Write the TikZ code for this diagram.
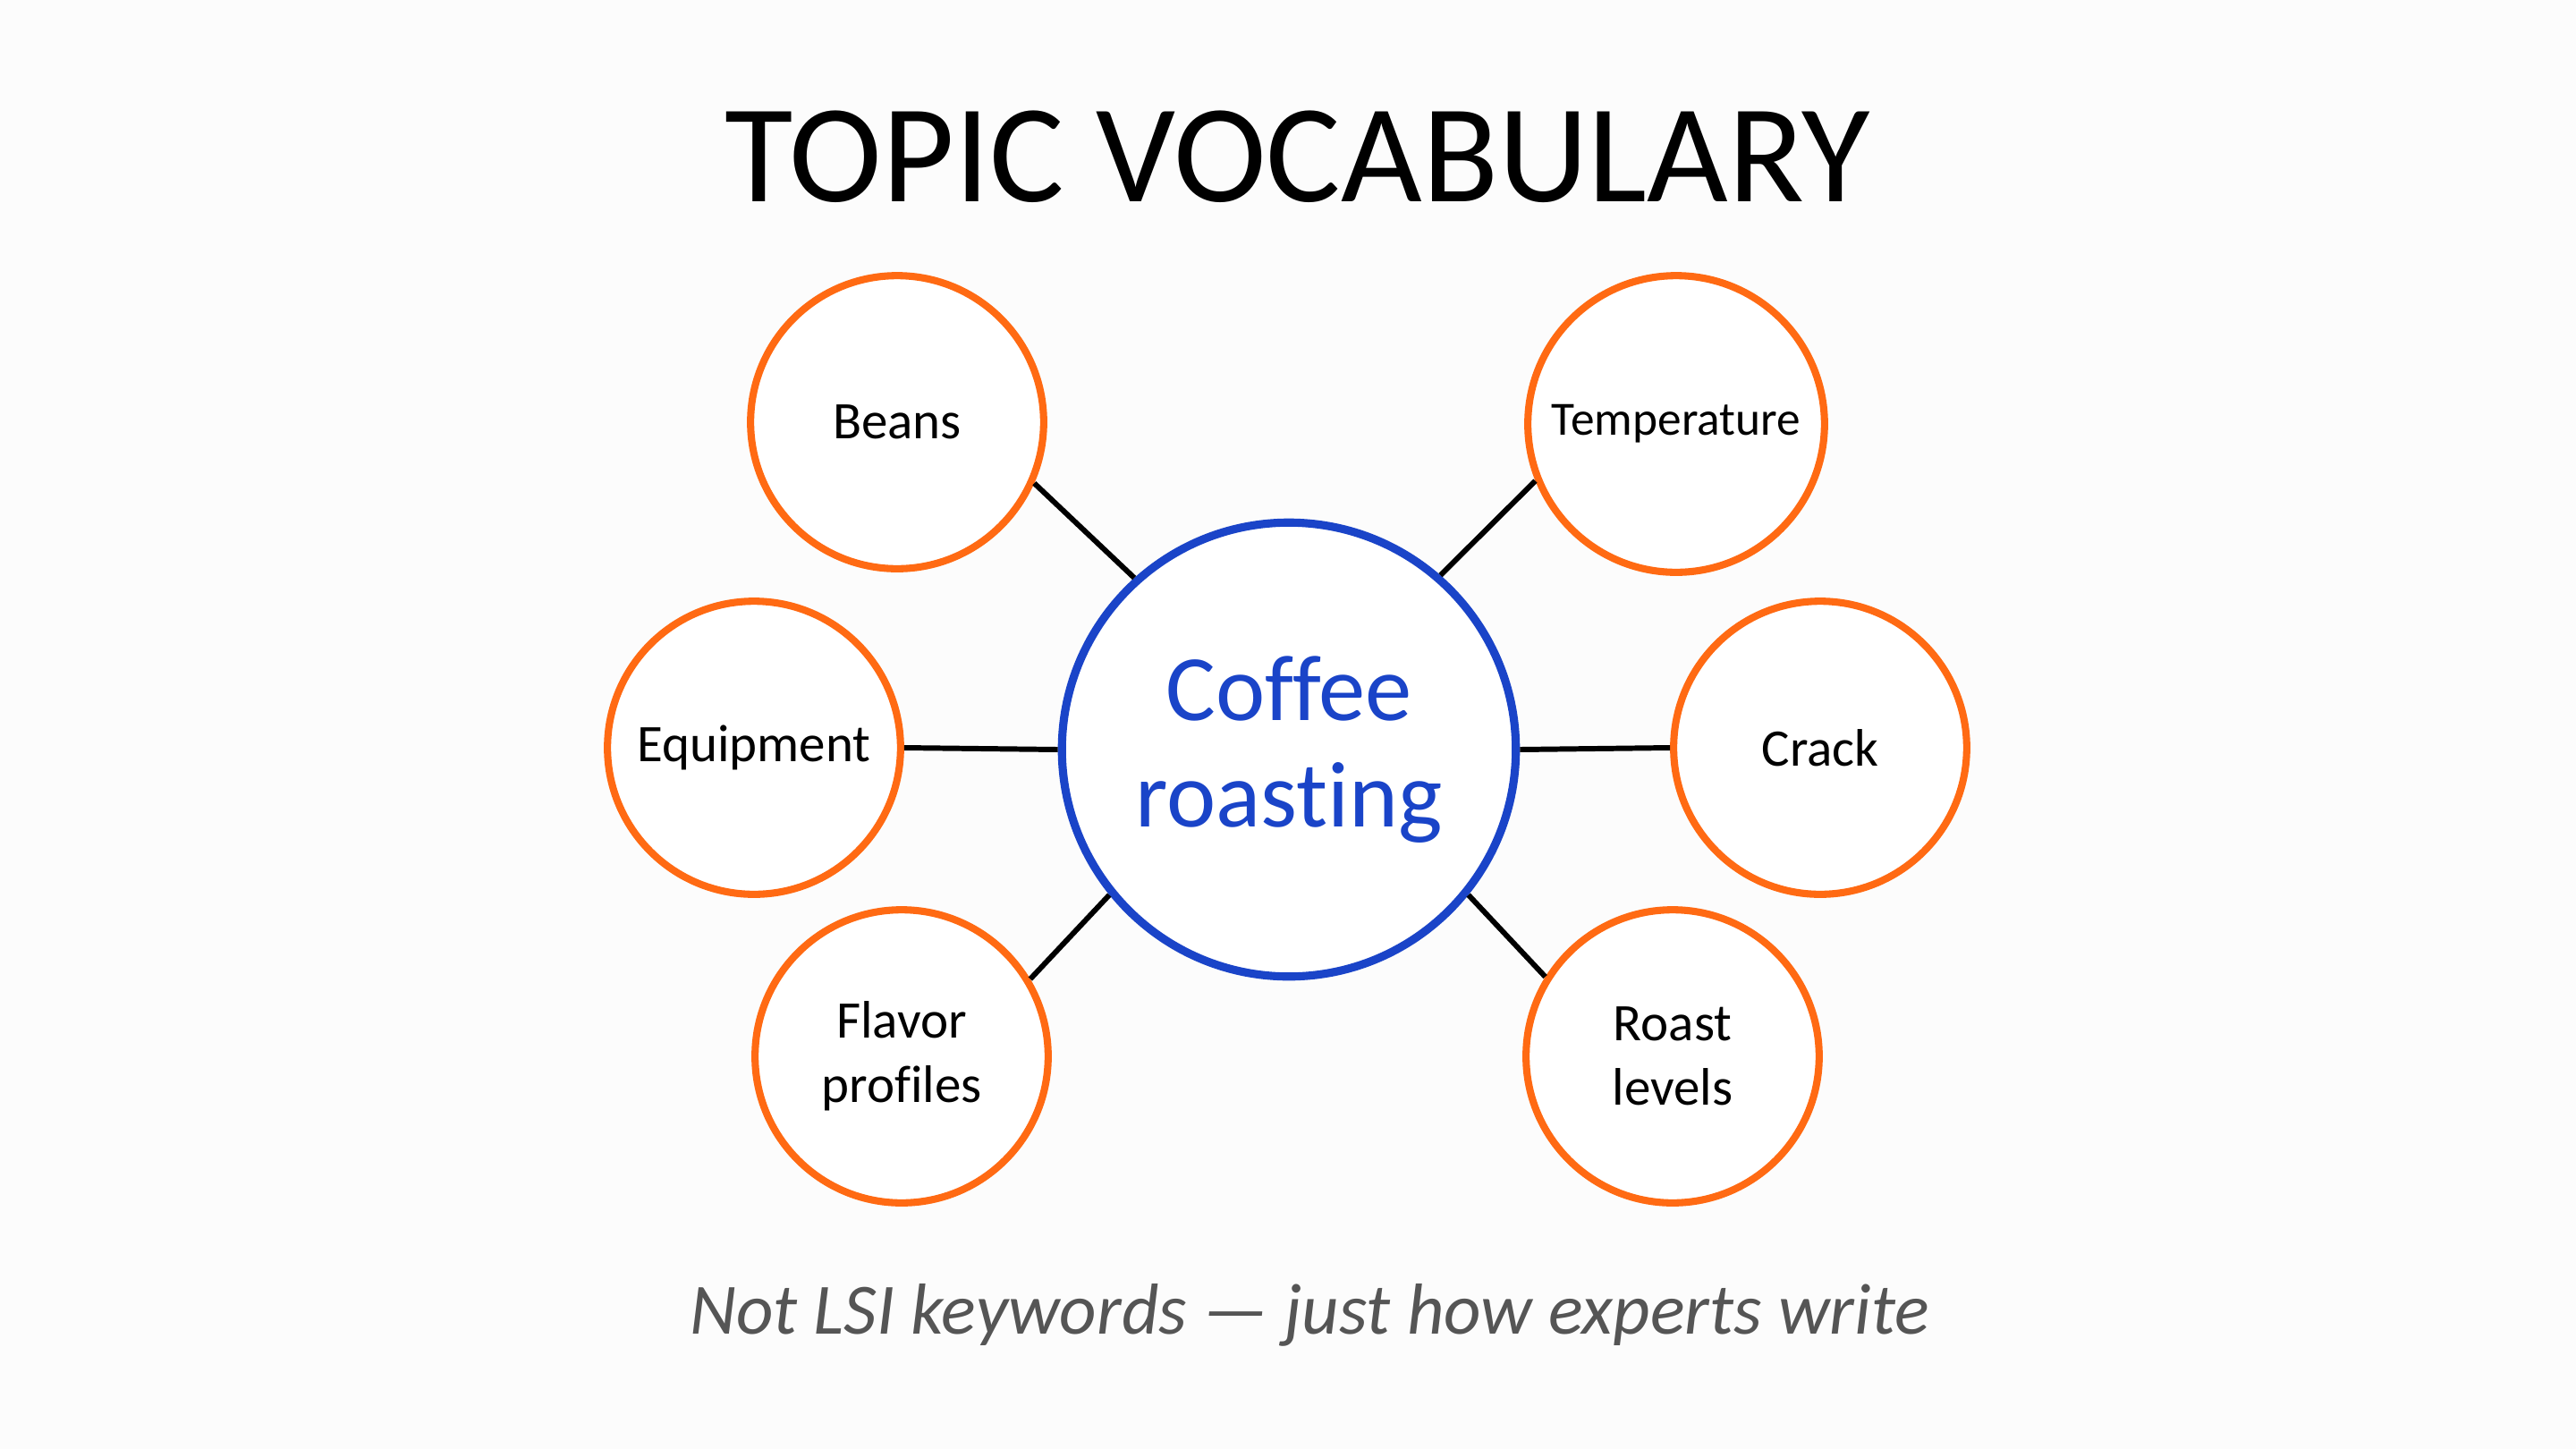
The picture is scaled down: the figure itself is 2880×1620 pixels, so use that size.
\documentclass[tikz,border=0pt]{standalone}
\usepackage{fontspec}
\setmainfont{Carlito}[Ligatures=NoCommon]
\definecolor{topicorange}{HTML}{FF6A13}
\definecolor{topicblue}{HTML}{1A44C8}
\definecolor{notegray}{HTML}{555555}
\definecolor{paper}{HTML}{FCFCFC}
\begin{document}
\begin{tikzpicture}[x=0.005cm, y=-0.005cm,
  term/.style={circle, draw=topicorange, line width=1.15pt, fill=white, minimum size=1.64cm, inner sep=0pt, align=center, font=\fontsize{8.4}{10.3}\selectfont},
  hub/.style={circle, draw=topicblue, line width=1.3pt, fill=white, minimum size=2.54cm, inner sep=0pt, align=center, text=topicblue, font=\fontsize{14.9}{17}\selectfont},
  link/.style={black, line width=0.85pt}]
  % Page background and margins
  \fill[paper] (0,0) rectangle (2880,1620);
  \useasboundingbox (0,0) rectangle (2880,1620);

  % Heading
  \node[font=\fontsize{22.3}{26}\selectfont] (title) at (1451,175) {TOPIC VOCABULARY};

  % Central topic
  \node[hub] (coffee) at (1441,838) {Coffee\\roasting};

  % Related terms round the topic
  \node[term] (beans) at (1003,472) {Beans};
  \node[term, minimum size=1.66cm, font=\fontsize{7.6}{9}\selectfont] (temp) at (1874,474) {Temperature};
  \node[term] (equip) at (843,836) {Equipment};
  \node[term] (crack) at (2035,836) {Crack};
  \node[term] (flavor) at (1008,1181) {Flavor\\profiles};
  \node[term] (roast) at (1870,1181) {Roast\\levels};

  % Spokes from the topic to each term
  \draw[link] (coffee.132) -- (beans.-24);
  \draw[link] (coffee.49) -- (temp.202);
  \draw[link] (coffee.180) -- (equip.0);
  \draw[link] (coffee.0) -- (crack.180);
  \draw[link] (coffee.219) -- (flavor.31);
  \draw[link] (coffee.321) -- (roast.148);

  % Footnote
  \node[font=\fontsize{11.5}{14}\selectfont\itshape, text=notegray] (note) at (1464,1470) {Not LSI keywords — just how experts write};
\end{tikzpicture}
\end{document}
